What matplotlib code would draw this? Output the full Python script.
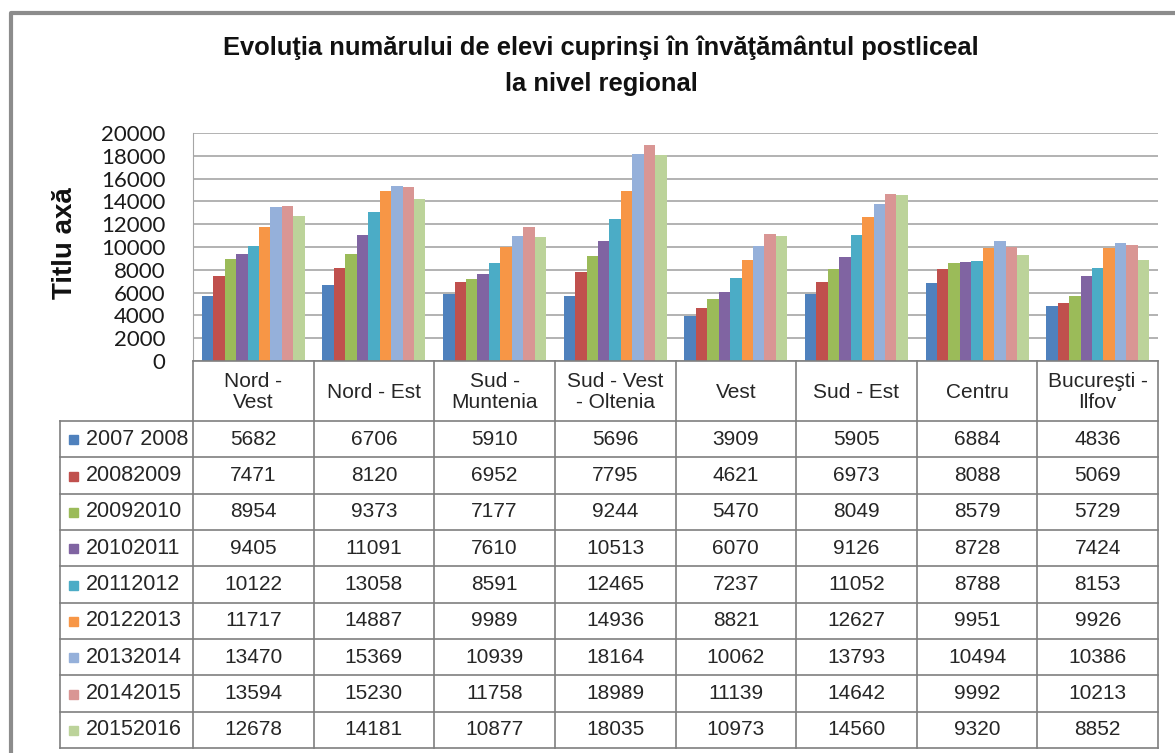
import numpy as np
import matplotlib
matplotlib.use('Agg')
import matplotlib.pyplot as plt

regions = ['Nord -\nVest', 'Nord - Est', 'Sud -\nMuntenia', 'Sud - Vest\n- Oltenia',
           'Vest', 'Sud - Est', 'Centru', 'Bucureşti -\nIlfov']
years = ['2007 2008', '20082009', '20092010', '20102011', '20112012',
         '20122013', '20132014', '20142015', '20152016']
v2007 = [5682, 6706, 5910, 5696, 3909, 5905, 6884, 4836]
v2008 = [7471, 8120, 6952, 7795, 4621, 6973, 8088, 5069]
v2009 = [8954, 9373, 7177, 9244, 5470, 8049, 8579, 5729]
v2010 = [9405, 11091, 7610, 10513, 6070, 9126, 8728, 7424]
v2011 = [10122, 13058, 8591, 12465, 7237, 11052, 8788, 8153]
v2012 = [11717, 14887, 9989, 14936, 8821, 12627, 9951, 9926]
v2013 = [13470, 15369, 10939, 18164, 10062, 13793, 10494, 10386]
v2014 = [13594, 15230, 11758, 18989, 11139, 14642, 9992, 10213]
v2015 = [12678, 14181, 10877, 18035, 10973, 14560, 9320, 8852]
series = [v2007, v2008, v2009, v2010, v2011, v2012, v2013, v2014, v2015]
colors = ['#4F81BD', '#C0504D', '#9BBB59', '#8064A2', '#4BACC6',
          '#F79646', '#95B0DA', '#D99694', '#BCD39A']

W, H = 1175, 753
fig = plt.figure(figsize=(W / 100, H / 100), dpi=100)

# pixel layout
left, right, top, zero = 193, 1158, 133, 361
row_top, row_h = 421, (748 - 421) / 9
lab_left = 60
col_w = (right - left) / len(regions)

def fx(x):
    return x / W

def fy(y):
    return 1 - y / H

ax = fig.add_axes([fx(left), fy(zero), fx(right - left), (zero - top) / H])
n = len(series)
bw = 0.854 / n
x = np.arange(len(regions))
for i, (vals, c) in enumerate(zip(series, colors)):
    ax.bar(x - 0.427 + bw * (i + 0.5), vals, width=bw, color=c, zorder=3)
ax.set_xlim(-0.5, len(regions) - 0.5)
ax.set_ylim(0, 20000)
ax.set_yticks(range(0, 20001, 2000))
ax.set_xticks([])
ax.yaxis.grid(True, color='#a6a6a6', linewidth=1.2, zorder=0)
for s in ['top', 'right', 'bottom']:
    ax.spines[s].set_visible(False)
ax.spines['left'].set_color('#a6a6a6')
ax.tick_params(axis='y', length=0, pad=20, labelsize=16, labelcolor='#1a1a1a')
for t in ax.get_yticklabels():
    t.set_fontfamily(['Lato', 'DejaVu Sans'])

# overlay in pixel coordinates for frame and data table
ov = fig.add_axes([0, 0, 1, 1], zorder=5)
ov.set_xlim(0, W)
ov.set_ylim(H, 0)
ov.axis('off')
ov.patch.set_alpha(0)

# outer chart frame (right and bottom edges fall outside the picture)
ov.plot([11, 11, W + 5], [H + 5, 13, 13], color='#8c8c8c', lw=3, solid_capstyle='butt')

lc = '#7f7f7f'
ov.plot([left, right], [zero, zero], color=lc, lw=1.2)
for r in range(n + 1):
    y = row_top + r * row_h
    ov.plot([lab_left, right], [y, y], color=lc, lw=1.2)
ov.plot([lab_left, lab_left], [row_top, row_top + n * row_h], color=lc, lw=1.2)
for k in range(len(regions) + 1):
    xx = left + k * col_w
    ov.plot([xx, xx], [zero, row_top + n * row_h], color=lc, lw=1.2)

sans = ['Liberation Sans', 'DejaVu Sans']
tc = '#262626'
for k, name in enumerate(regions):
    ov.text(left + (k + 0.5) * col_w, (zero + row_top) / 2 + 1, name, ha='center', va='center',
            fontsize=15, family=sans, color=tc, linespacing=1.1)

for r, (lab, vals, c) in enumerate(zip(years, series, colors)):
    yc = row_top + (r + 0.5) * row_h
    ov.add_patch(plt.Rectangle((69, yc - 4), 9, 9, color=c))
    ov.text(86, yc, lab, ha='left', va='center', fontsize=15.5, family=sans, color=tc)
    for k, v in enumerate(vals):
        ov.text(left + (k + 0.5) * col_w, yc, str(v), ha='center', va='center',
                fontsize=15, family=sans, color=tc)

fig.text(fx(601), fy(48), 'Evoluţia numărului de elevi cuprinşi în învăţământul postliceal',
         ha='center', va='center', fontsize=18.4, fontweight='bold', family=sans, color='#111111')
fig.text(fx(601), fy(84), 'la nivel regional', ha='center', va='center', fontsize=18.4,
         fontweight='bold', family=sans, color='#111111')
fig.text(fx(65), fy(243), 'Titlu axă', ha='center', va='center', rotation=90, fontsize=20,
         fontweight='bold', family=sans, color='#111111')

fig.savefig('out.png', dpi=100)
